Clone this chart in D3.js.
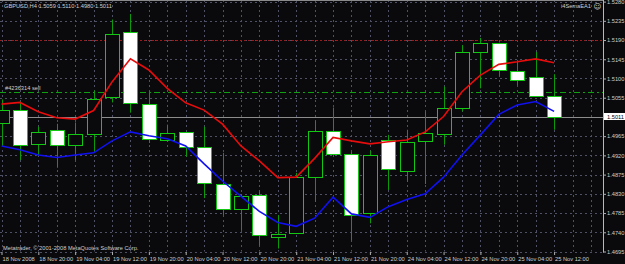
<!DOCTYPE html>
<meta charset="utf-8">
<style>
    body {
        margin: 0;
        background: #0a0a0c;
    }
    svg {
        display: block;
    }
    text {
        font-family: "Liberation Sans", Arial, sans-serif;
        font-size: 5.7px;
        fill: #cfcfcf;
    }
    .grid line {
        stroke: #4e5166;
        stroke-dasharray: 2,3;
        stroke-width: 1;
    }
    path.wick {
        stroke: #0a9a0a;
        stroke-width: 1;
    }
    rect.body {
        stroke: #12c812;
        stroke-width: 1;
    }
    rect.body.down {
        fill: #ffffff;
    }
    rect.body.up {
        fill: #0a0a0c;
    }
    .axis line {
        stroke: #b0b0b0;
    }
</style>
<body>
<script src="https://d3js.org/d3.v7.min.js"></script>
<script>
    // H4 bars, 18 Nov 2008 12:00 .. 25 Nov 2008 12:00
    var times = ["18 Nov 12:00","18 Nov 16:00","18 Nov 20:00","19 Nov 00:00","19 Nov 04:00","19 Nov 08:00",
        "19 Nov 12:00","19 Nov 16:00","19 Nov 20:00","20 Nov 00:00","20 Nov 04:00","20 Nov 08:00",
        "20 Nov 12:00","20 Nov 16:00","20 Nov 20:00","21 Nov 00:00","21 Nov 04:00","21 Nov 08:00",
        "21 Nov 12:00","21 Nov 16:00","21 Nov 20:00","24 Nov 00:00","24 Nov 04:00","24 Nov 08:00",
        "24 Nov 12:00","24 Nov 16:00","24 Nov 20:00","25 Nov 00:00","25 Nov 04:00","25 Nov 08:00","25 Nov 12:00"];

    var open  = [1.4996,1.5026,1.4946,1.4979,1.4945,1.4971,1.5056,1.5208,1.5041,1.4955,1.4974,1.4939,1.4854,1.4795,1.4828,1.4730,
                 1.4739,1.4870,1.4978,1.4924,1.4785,1.4955,1.4884,1.4953,1.4971,1.5029,1.5162,1.5182,1.5118,1.5103,1.5059];
    var high  = [1.5051,1.5046,1.4987,1.4994,1.4997,1.5072,1.5238,1.5251,1.5070,1.4992,1.4975,1.4987,1.4926,1.4829,1.4835,1.4780,
                 1.4879,1.5001,1.5032,1.4928,1.4931,1.4968,1.4980,1.5023,1.5081,1.5178,1.5195,1.5184,1.5141,1.5162,1.5110];
    var low   = [1.4942,1.4909,1.4921,1.4891,1.4909,1.4928,1.5044,1.5020,1.4949,1.4952,1.4917,1.4820,1.4780,1.4745,1.4709,1.4702,
                 1.4736,1.4811,1.4921,1.4721,1.4761,1.4839,1.4858,1.4853,1.4945,1.5023,1.5077,1.5105,1.5084,1.5058,1.4980];
    var close = [1.5026,1.4945,1.4975,1.4944,1.4971,1.5053,1.5204,1.5041,1.4959,1.4972,1.4939,1.4855,1.4796,1.4826,1.4734,1.4737,
                 1.4869,1.4977,1.4923,1.4782,1.4920,1.4888,1.4952,1.4972,1.5031,1.5161,1.5184,1.5118,1.5096,1.5059,1.5011];

    // indicator lines drawn by the EA
    var redLine  = [1.5040,1.5044,1.5022,1.5008,1.5005,1.5025,1.5092,1.5146,1.5120,1.5077,1.5043,1.5026,1.4993,1.4942,1.4907,1.4868,
                    1.4869,1.4913,1.4962,1.4954,1.4947,1.4952,1.4956,1.4975,1.5011,1.5069,1.5108,1.5133,1.5139,1.5146,1.5137];
    var blueLine = [1.4942,1.4933,1.4921,1.4915,1.4921,1.4926,1.4954,1.4975,1.4966,1.4959,1.4942,1.4900,1.4860,1.4824,1.4789,1.4763,
                    1.4754,1.4773,1.4822,1.4783,1.4775,1.4800,1.4817,1.4830,1.4869,1.4921,1.4968,1.5016,1.5038,1.5046,1.5023];

    var tickLabels = ["18 Nov 2008","18 Nov 20:00","19 Nov 04:00","19 Nov 12:00","19 Nov 20:00","20 Nov 04:00","20 Nov 12:00",
        "20 Nov 20:00","21 Nov 04:00","21 Nov 12:00","21 Nov 20:00","24 Nov 04:00","24 Nov 12:00","24 Nov 20:00",
        "25 Nov 04:00","25 Nov 12:00"];
    var priceTicks = [1.5280,1.5235,1.5190,1.5145,1.5100,1.5055,1.5010,1.4965,1.4920,1.4875,1.4830,1.4785,1.4740,1.4695];

    var bid = 1.5011, orderPrice = 1.5068, stopPrice = 1.5190;

    var width = 625, height = 264,
        plotRight = 603, plotBottom = 251.5;

    var x = d3.scalePoint()
            .domain(times)
            .range([1.5, 554.1]);

    var y = d3.scaleLinear()
            .domain([1.4695, 1.5280])
            .range([plotBottom, 1.6]);

    var svg = d3.select("body").append("svg")
                .attr("width", width)
                .attr("height", height);

    svg.append("rect")
       .attr("width", width).attr("height", height)
       .attr("fill", "#0a0a0c");

    // grid
    var grid = svg.append("g").attr("class", "grid");
    var gridX = d3.range(x(times[0]), plotRight, x.step());
    grid.selectAll("line.v").data(gridX).enter().append("line")
        .attr("class", "v")
        .attr("x1", function(d) { return Math.round(d) + 0.5; })
        .attr("x2", function(d) { return Math.round(d) + 0.5; })
        .attr("y1", 0).attr("y2", plotBottom);
    grid.selectAll("line.h").data(priceTicks).enter().append("line")
        .attr("class", "h")
        .attr("x1", 0).attr("x2", plotRight)
        .attr("y1", function(d) { return Math.round(y(d)) + 0.5; })
        .attr("y2", function(d) { return Math.round(y(d)) + 0.5; });

    // top frame line + price axis line
    svg.append("line").attr("x1", 0).attr("x2", plotRight).attr("y1", 0.5).attr("y2", 0.5)
       .attr("stroke", "#8a8a8a");
    svg.append("line").attr("x1", plotRight + 0.5).attr("x2", plotRight + 0.5).attr("y1", 0).attr("y2", plotBottom + 1)
       .attr("stroke", "#b8b8b8");

    // order lines
    svg.append("line")
       .attr("x1", 0).attr("x2", plotRight)
       .attr("y1", Math.round(y(stopPrice)) + 0.5).attr("y2", Math.round(y(stopPrice)) + 0.5)
       .attr("stroke", "#a01818").attr("stroke-dasharray", "2,2");
    svg.append("line")
       .attr("x1", 0).attr("x2", plotRight)
       .attr("y1", Math.round(y(orderPrice)) + 0.5).attr("y2", Math.round(y(orderPrice)) + 0.5)
       .attr("stroke", "#11a011").attr("stroke-dasharray", "6,3,2,3");
    svg.append("text")
       .attr("x", 5).attr("y", y(orderPrice) - 2.5)
       .text("#4236314 sell");

    // bid line
    svg.append("line")
       .attr("x1", 0).attr("x2", plotRight)
       .attr("y1", Math.round(y(bid)) + 0.5).attr("y2", Math.round(y(bid)) + 0.5)
       .attr("stroke", "#8c8c8c");

    // candles
    var bars = times.map(function(t, i) {
        return {t: t, o: open[i], h: high[i], l: low[i], c: close[i]};
    });

    var candles = svg.append("g").attr("class", "candlestick");
    candles.selectAll("path.wick").data(bars).enter().append("path")
        .attr("class", "wick")
        .attr("d", function(d) {
            var cx = Math.round(x(d.t)) + 0.5;
            return "M" + cx + "," + y(d.h) + "V" + y(d.l);
        });
    candles.selectAll("rect.body").data(bars).enter().append("rect")
        .attr("class", function(d) { return "body " + (d.c < d.o ? "down" : "up"); })
        .attr("x", function(d) { return Math.round(x(d.t)) - 6.5; })
        .attr("width", 14)
        .attr("y", function(d) { return Math.round(y(Math.max(d.o, d.c))) + 0.5; })
        .attr("height", function(d) { return Math.max(1, Math.round(Math.abs(y(d.o) - y(d.c)))); });

    // EA lines
    var line = d3.line()
        .x(function(d, i) { return x(times[i]); })
        .y(function(d) { return y(d); });

    svg.append("path").datum(redLine)
       .attr("fill", "none").attr("stroke", "#e80c0c").attr("stroke-width", 1.6)
       .attr("d", line);
    svg.append("path").datum(blueLine)
       .attr("fill", "none").attr("stroke", "#1010f0").attr("stroke-width", 1.6)
       .attr("d", line);

    // price axis
    var yAxis = d3.axisRight(y)
            .tickValues(priceTicks)
            .tickSize(3)
            .tickPadding(1)
            .tickFormat(d3.format(".4f"));
    svg.append("g")
       .attr("class", "y axis")
       .attr("transform", "translate(" + plotRight + ",0)")
       .call(yAxis)
       .call(function(g) { g.select(".domain").remove(); });

    // current bid label
    svg.append("rect")
       .attr("x", plotRight + 1).attr("y", y(bid) - 3.5)
       .attr("width", 21).attr("height", 7)
       .attr("fill", "#ffffff");
    svg.append("text")
       .attr("x", plotRight + 4).attr("y", y(bid) + 2)
       .style("fill", "#000")
       .text(d3.format(".4f")(bid));

    // time axis
    var xAxis = d3.axisBottom(x)
            .tickValues(times.filter(function(d, i) { return i % 2 === 0; }))
            .tickSize(3)
            .tickFormat(function(d, i) { return tickLabels[i]; });
    svg.append("g")
       .attr("class", "x axis")
       .attr("transform", "translate(0," + (plotBottom + 0.5) + ")")
       .call(xAxis)
       .call(function(g) {
           g.select(".domain").remove();
           g.selectAll("text")
            .attr("text-anchor", "start")
            .attr("x", 0.5)
            .attr("y", 5)
            .attr("dy", "0.71em");
       });

    // header / footer texts
    svg.append("text").attr("x", 4).attr("y", 8)
       .text("GBPUSD,H4  1.5059 1.5110 1.4980 1.5011");
    svg.append("text").attr("x", 591).attr("y", 8)
       .attr("text-anchor", "end")
       .text("i4SemaEA1");
    svg.append("text").attr("x", 597.5).attr("y", 8.5)
       .attr("text-anchor", "middle")
       .style("font-family", "DejaVu Sans")
       .style("font-size", "7.5px")
       .text("\u263A");
    svg.append("text").attr("x", 3).attr("y", 249.5)
       .text("Metatrader, \u00A9 2001-2008 MetaQuotes Software Corp.");
</script>
